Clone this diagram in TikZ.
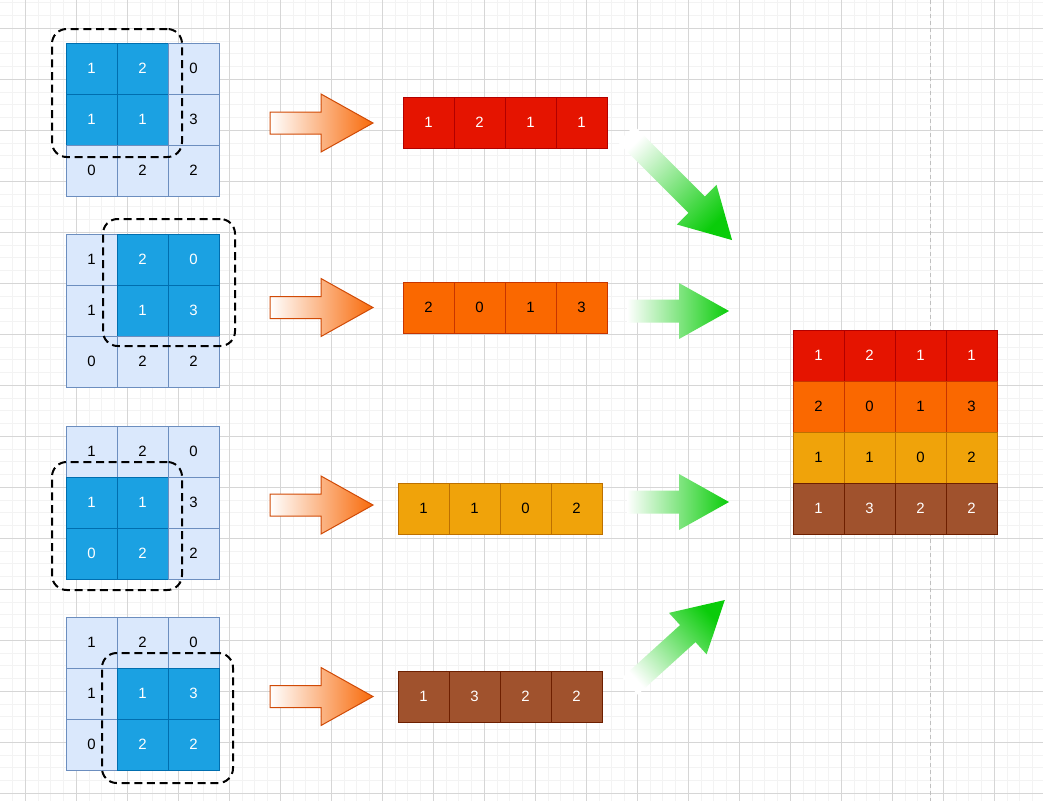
\documentclass[tikz,border=0pt]{standalone}
\usepackage{fontspec}
\setmainfont{Liberation Sans}
\definecolor{lfill}{HTML}{DAE8FC}
\definecolor{lline}{HTML}{6C8EBF}
\definecolor{dfill}{HTML}{1BA1E2}
\definecolor{dline}{HTML}{006EAF}
\definecolor{rfill}{HTML}{E51400}
\definecolor{rline}{HTML}{B20000}
\definecolor{ofill}{HTML}{FA6800}
\definecolor{oline}{HTML}{C73500}
\definecolor{yfill}{HTML}{F0A30A}
\definecolor{yline}{HTML}{BD7000}
\definecolor{bfill}{HTML}{A0522D}
\definecolor{bline}{HTML}{6D1F00}
\definecolor{gmajor}{HTML}{D6D6D6}
\definecolor{gminor}{HTML}{F3F3F3}
\definecolor{agreen}{HTML}{0ACC0A}
\definecolor{aorange}{HTML}{F86A0A}
\definecolor{aoline}{HTML}{D04A06}
\definecolor{pbreak}{HTML}{C0C0C0}
\tikzset{
  cell/.style={draw, line width=0.75pt, minimum size=38.25pt, inner sep=0pt, outer sep=0pt,
    anchor=north west, font=\fontsize{11.2}{13}\selectfont},
  lcell/.style={cell, fill=lfill, draw=lline, text=black},
  dcell/.style={cell, fill=dfill, draw=dline, text=white},
  rcell/.style={cell, fill=rfill, draw=rline, text=white},
  ocell/.style={cell, fill=ofill, draw=oline, text=black},
  ycell/.style={cell, fill=yfill, draw=yline, text=black},
  bcell/.style={cell, fill=bfill, draw=bline, text=white},
  dashbox/.style={draw=black, line width=1.5pt, dash pattern=on 6pt off 3.5pt,
    rounded corners=11pt, inner sep=0pt, outer sep=0pt, anchor=north west},
  oarrow/.style={draw=aoline, line width=0.75pt, left color=white, right color=aorange},
  garrow/.style={left color=white, right color=agreen},
  minorline/.style={draw=gminor, line width=0.75pt},
  majorline/.style={draw=gmajor, line width=0.75pt},
  pageline/.style={draw=pbreak, line width=0.75pt, dash pattern=on 3pt off 2.25pt}
}
\begin{document}
\begin{tikzpicture}[x=0.75pt,y=-0.75pt]
\useasboundingbox (0,0) rectangle (1043,801);
\fill[white] (0,0) rectangle (1043,801);
% background grid
\begin{scope}
\clip (0,0) rectangle (1043,801);
\foreach \k in {-1,...,80} \draw[minorline] (25.3+12.75*\k,0) -- (25.3+12.75*\k,801);
\foreach \k in {-2,...,61} \draw[minorline] (0,28.3+12.75*\k) -- (1043,28.3+12.75*\k);
\foreach \k in {0,...,20} \draw[majorline] (25.3+51*\k,0) -- (25.3+51*\k,801);
\foreach \k in {0,...,15} \draw[majorline] (0,28.3+51*\k) -- (1043,28.3+51*\k);
\end{scope}
\coordinate (pbtop) at (930,0);
\coordinate (pbbot) at (930,801);
\draw[pageline] (pbtop) -- (pbbot);

% input grids
\foreach \g/\yy/\dr/\dc in {1/43/1/1, 2/234/1/2, 3/426/2/1, 4/617/2/2}{
  \foreach \r/\c/\v in {1/1/1,1/2/2,1/3/0,2/1/1,2/2/1,2/3/3,3/1/0,3/2/2,3/3/2}{
    \pgfmathtruncatemacro\isdark{and(and(\r>\dr-1,\r<\dr+2),and(\c>\dc-1,\c<\dc+2))}
    \ifnum\isdark=1
      \node[dcell] (g\g-\r\c) at (66+51*\c-51,\yy+51*\r-51) {\v};
    \else
      \node[lcell] (g\g-\r\c) at (66+51*\c-51,\yy+51*\r-51) {\v};
    \fi
  }
}
% dashed windows
\node[dashbox, minimum width=97.5pt, minimum height=96pt] (win1) at (52,29) {};
\node[dashbox, minimum width=99pt, minimum height=95.25pt] (win2) at (103,219) {};
\node[dashbox, minimum width=97.5pt, minimum height=96pt] (win3) at (52,462) {};
\node[dashbox, minimum width=98.25pt, minimum height=97.5pt] (win4) at (102,653) {};

% orange arrows
\foreach \cy in {123,307.5,505,696.5}{
  \path[oarrow] (270,\cy-11) -- (321,\cy-11) -- (321,\cy-29) -- (373,\cy)
    -- (321,\cy+29) -- (321,\cy+11) -- (270,\cy+11) -- cycle;
}

% flattened rows
\foreach \i/\v in {1/1,2/2,3/1,4/1} \node[rcell] (red\i) at (403+51*\i-51,97) {\v};
\foreach \i/\v in {1/2,2/0,3/1,4/3} \node[ocell] (org\i) at (403+51*\i-51,282) {\v};
\foreach \i/\v in {1/1,2/1,3/0,4/2} \node[ycell] (yel\i) at (398+51*\i-51,483) {\v};
\foreach \i/\v in {1/1,2/3,3/2,4/2} \node[bcell] (brn\i) at (398+51*\i-51,671) {\v};

% green arrows
\foreach \cy in {311,502}{
  \path[garrow] (627,\cy-11.5) -- (679,\cy-11.5) -- (679,\cy-28) -- (729,\cy)
    -- (679,\cy+28) -- (679,\cy+11.5) -- (627,\cy+11.5) -- cycle;
}
\begin{scope}[shift={(626,134)}, rotate=-45]
  \shade[top color=white, bottom color=agreen, shading angle=45]
    (0,-11.5) -- (100,-11.5) -- (100,-28) -- (150,0) -- (100,28) -- (100,11.5) -- (0,11.5) -- cycle;
\end{scope}
\begin{scope}[shift={(630,686)}, rotate=42.2]
  \shade[top color=agreen, bottom color=white, shading angle=-48]
    (0,-11.5) -- (78,-11.5) -- (78,-28) -- (128,0) -- (78,28) -- (78,11.5) -- (0,11.5) -- cycle;
\end{scope}

% output matrix
\foreach \i/\v in {1/1,2/2,3/1,4/1} \node[rcell] (out1\i) at (793+51*\i-51,330) {\v};
\foreach \i/\v in {1/2,2/0,3/1,4/3} \node[ocell] (out2\i) at (793+51*\i-51,381) {\v};
\foreach \i/\v in {1/1,2/1,3/0,4/2} \node[ycell] (out3\i) at (793+51*\i-51,432) {\v};
\foreach \i/\v in {1/1,2/3,3/2,4/2} \node[bcell] (out4\i) at (793+51*\i-51,483) {\v};
\end{tikzpicture}
\end{document}
